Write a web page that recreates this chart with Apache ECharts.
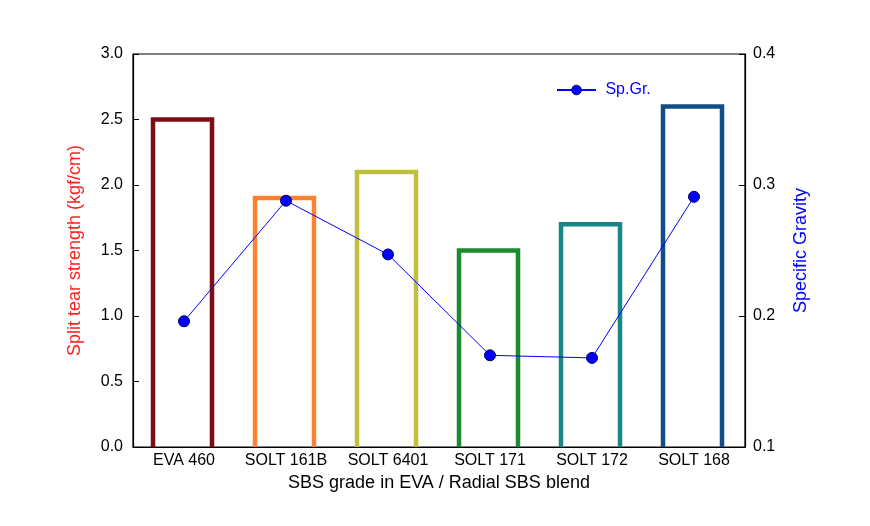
<!DOCTYPE html>
<html><head><meta charset="utf-8">
<script src="https://cdn.jsdelivr.net/npm/echarts@6/dist/echarts.min.js"></script>
<style>html,body{margin:0;padding:0;background:#fff}#c{width:870px;height:526px}</style>
</head><body><div id="c"></div>
<script>
var categories = ['EVA 460', 'SOLT 161B', 'SOLT 6401', 'SOLT 171', 'SOLT 172', 'SOLT 168'];
var tearStrength = [2.5, 1.9, 2.1, 1.5, 1.7, 2.6];
var specificGravity = [0.196, 0.288, 0.247, 0.170, 0.168, 0.291];
var barColors = ['#7f0b14', '#fb8232', '#bfc13d', '#1c8a2d', '#178787', '#124d88'];

var chart = echarts.init(document.getElementById('c'));
var font = 'Liberation Sans, Arial, sans-serif';
chart.setOption({
  animation: false,
  grid: {left: 133, right: 125, top: 54, bottom: 79, show: true, borderColor: '#000', borderWidth: 1.2, backgroundColor: 'transparent'},
  legend: {
    data: [{name: 'Sp.Gr.', itemStyle: {borderColor: '#000060', borderWidth: 1}}],
    left: 551, top: 77, itemWidth: 39, itemHeight: 12, itemGap: 8,
    formatter: function(n){return ' ' + n;},
    textStyle: {color: '#0000ff', fontSize: 16, fontFamily: font}
  },
  xAxis: {
    type: 'category', data: categories,
    axisLine: {lineStyle: {color: '#000', width: 1.2}},
    axisTick: {show: false},
    axisLabel: {color: '#000', fontSize: 16, fontFamily: font, margin: 6, interval: 0},
    name: 'SBS grade in EVA / Radial SBS blend', nameLocation: 'middle', nameGap: 27,
    nameTextStyle: {color: '#000', fontSize: 18, fontFamily: font}
  },
  yAxis: [{
    type: 'value', min: 0, max: 3, interval: 0.5, position: 'left',
    axisLine: {show: true, lineStyle: {color: '#000', width: 1.2}},
    axisTick: {show: true, inside: true, length: 6, lineStyle: {color: '#000'}},
    splitLine: {show: false},
    axisLabel: {color: '#000', fontSize: 16, fontFamily: font, margin: 10, formatter: function(v){return v.toFixed(1);}},
    name: 'Split tear strength (kgf/cm)', nameLocation: 'middle', nameGap: 49, nameRotate: 90,
    nameTextStyle: {color: '#ff2020', fontSize: 18, fontFamily: font}
  }, {
    type: 'value', min: 0.1, max: 0.4, interval: 0.1, position: 'right',
    axisLine: {show: true, lineStyle: {color: '#000', width: 1.2}},
    axisTick: {show: true, inside: true, length: 6, lineStyle: {color: '#000'}},
    splitLine: {show: false},
    axisLabel: {color: '#000', fontSize: 16, fontFamily: font, margin: 8, formatter: function(v){return v.toFixed(1);}},
    name: 'Specific Gravity', nameLocation: 'middle', nameGap: 47, nameRotate: 90,
    nameTextStyle: {color: '#0000ff', fontSize: 18, fontFamily: font}
  }],
  series: [{
    name: 'Tear', type: 'custom', yAxisIndex: 0,
    data: tearStrength.map(function(v, i){ return [i, v]; }),
    renderItem: function(params, api){
      var i = api.value(0), v = api.value(1);
      var top = api.coord([i, v]);
      var base = api.coord([i, 0]);
      var half = 29.5;
      var off = -1.5;
      return {
        type: 'polyline',
        shape: {points: [[top[0] - half + off, base[1]], [top[0] - half + off, top[1]], [top[0] + half + off, top[1]], [top[0] + half + off, base[1]]]},
        style: {fill: null, stroke: barColors[params.dataIndex], lineWidth: 4.5, lineJoin: 'miter'}
      };
    },
    z: 2
  }, {
    name: 'Sp.Gr.', type: 'line', yAxisIndex: 1, data: specificGravity,
    symbol: 'circle', symbolSize: 11,
    lineStyle: {color: '#0000ff', width: 1},
    itemStyle: {color: '#0000ff', borderColor: '#000060', borderWidth: 1},
    z: 3
  }]
});
</script></body></html>
